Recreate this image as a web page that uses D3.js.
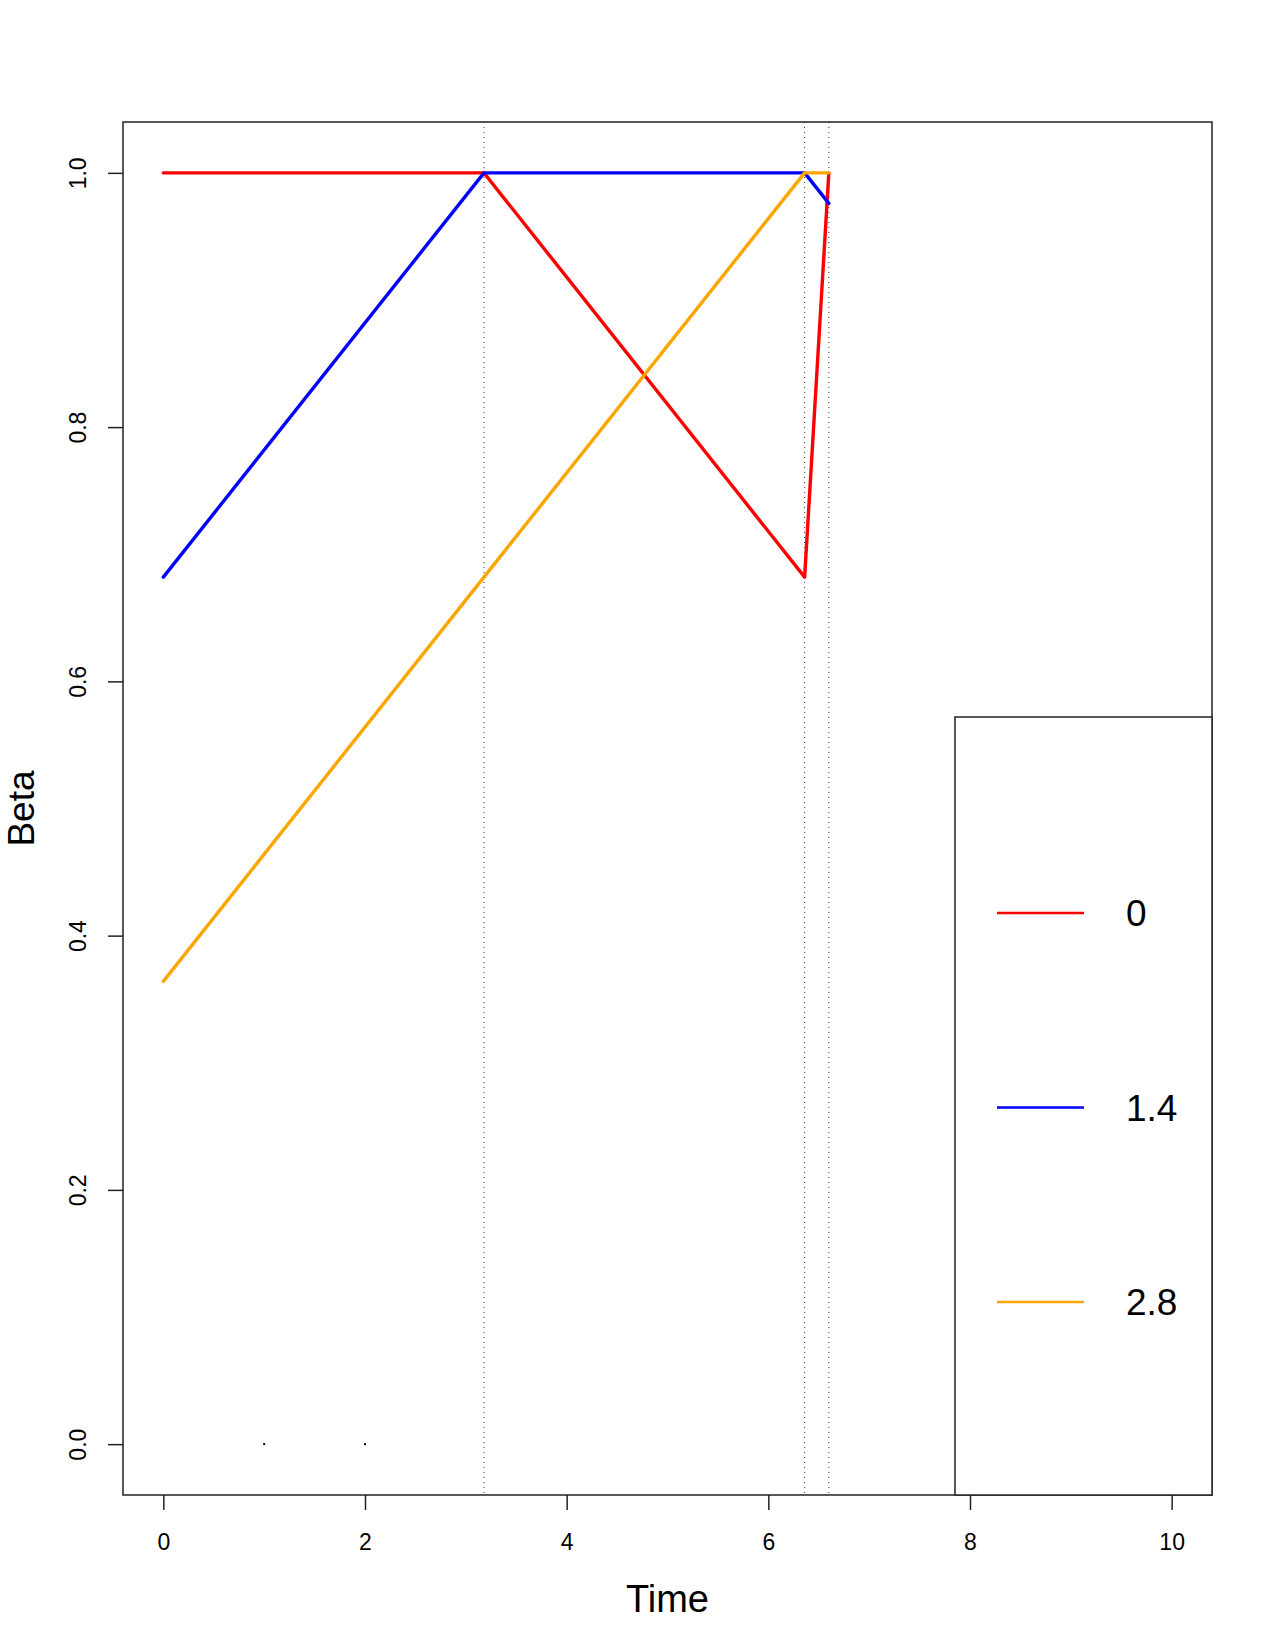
<!DOCTYPE html>
<html>
<head>
<meta charset="utf-8">
<script src="https://cdn.jsdelivr.net/npm/d3@7"></script>
<style>
  body { margin: 0; background: #fff; }
  text { font-family: "Liberation Sans", Arial, sans-serif; }
</style>
</head>
<body>
<script>
// values
var times = [0, 3.18, 6.36, 6.6];
var seriesNames = ["0", "1.4", "2.8"];
var seriesColors = ["#ff0000", "#0000ff", "#ffa500"];
var red = [1, 1, 0.682, 1];
var blue = [0.682, 1, 1, 0.976];
var orange = [0.364, 0.682, 1, 1];
var breaks = [3.18, 6.36, 6.6];
var dotsX = [1, 2];
var dotsY = [0, 0];
var xTicks = [0, 2, 4, 6, 8, 10];
var yTicks = [0, 0.2, 0.4, 0.6, 0.8, 1.0];

var W = 1275, H = 1650;
var plotL = 123, plotR = 1212, plotT = 122, plotB = 1495;

var svg = d3.select("body").append("svg")
  .attr("width", W).attr("height", H);

var x = d3.scaleLinear().domain([-0.4, 10.4]).range([plotL, plotR]);
var y = d3.scaleLinear().domain([-0.04, 1.04]).range([plotB, plotT]);

// vertical dotted lines
svg.selectAll("line.brk").data(breaks).enter().append("line")
  .attr("class", "brk")
  .attr("x1", function(d) { return x(d); }).attr("x2", function(d) { return x(d); })
  .attr("y1", plotT).attr("y2", plotB)
  .attr("stroke", "#333").attr("stroke-width", 1)
  .attr("stroke-dasharray", "1,4");

var line = d3.line()
  .x(function(d, i) { return x(times[i]); })
  .y(function(d) { return y(d); });

var all = [red, blue, orange];
all.forEach(function(s, k) {
  svg.append("path")
    .datum(s)
    .attr("d", line)
    .attr("fill", "none")
    .attr("stroke", seriesColors[k])
    .attr("stroke-width", 3.4)
    .attr("stroke-linecap", "round")
    .attr("stroke-linejoin", "round");
});

// tiny points
svg.selectAll("rect.dot").data(dotsX).enter().append("rect")
  .attr("class", "dot")
  .attr("x", function(d) { return x(d) - 1; })
  .attr("y", function(d, i) { return y(dotsY[i]) - 1; })
  .attr("width", 2).attr("height", 2)
  .attr("fill", "#000");

// box
svg.append("rect")
  .attr("x", plotL).attr("y", plotT)
  .attr("width", plotR - plotL).attr("height", plotB - plotT)
  .attr("fill", "none").attr("stroke", "#222").attr("stroke-width", 1.5);

// x axis
var xAxis = d3.axisBottom(x).tickValues(xTicks).tickSize(15).tickPadding(24)
  .tickFormat(d3.format("d"));
var gx = svg.append("g").attr("transform", "translate(0," + plotB + ")").call(xAxis);
gx.select(".domain").remove();
gx.selectAll("line").attr("stroke", "#222").attr("stroke-width", 1.5);
gx.selectAll("text").attr("font-size", 23).attr("fill", "#000")
  .attr("font-family", "Liberation Sans, Arial, sans-serif");

// y axis
var yAxis = d3.axisLeft(y).tickValues(yTicks).tickSize(15)
  .tickFormat(d3.format(".1f"));
var gy = svg.append("g").attr("transform", "translate(" + plotL + ",0)").call(yAxis);
gy.select(".domain").remove();
gy.selectAll("line").attr("stroke", "#222").attr("stroke-width", 1.5);
gy.selectAll("text")
  .attr("font-size", 23).attr("fill", "#000")
  .attr("font-family", "Liberation Sans, Arial, sans-serif")
  .attr("text-anchor", "middle")
  .attr("x", 0).attr("dy", 0)
  .attr("transform", "translate(-37,0) rotate(-90)");

// axis titles
svg.append("text")
  .attr("x", (plotL + plotR) / 2).attr("y", 1612)
  .attr("text-anchor", "middle").attr("font-size", 38)
  .text("Time");
svg.append("text")
  .attr("transform", "translate(34," + ((plotT + plotB) / 2) + ") rotate(-90)")
  .attr("text-anchor", "middle").attr("font-size", 37)
  .text("Beta");

// legend
var lgX = 955, lgY = 717;
svg.append("rect")
  .attr("x", lgX).attr("y", lgY)
  .attr("width", plotR - lgX).attr("height", plotB - lgY)
  .attr("fill", "#fff").attr("stroke", "#222").attr("stroke-width", 1.5);

var legendY = d3.scalePoint().domain(seriesNames).range([913, 1302]);
var items = svg.selectAll("g.item").data(seriesNames).enter().append("g")
  .attr("class", "item")
  .attr("transform", function(d) { return "translate(0," + legendY(d) + ")"; });
items.append("line")
  .attr("x1", 997).attr("x2", 1084)
  .attr("stroke", function(d, i) { return seriesColors[i]; })
  .attr("stroke-width", 2.5);
items.append("text")
  .attr("x", 1126).attr("dy", "0.36em")
  .attr("font-size", 37)
  .text(function(d) { return d; });
</script>
</body>
</html>
